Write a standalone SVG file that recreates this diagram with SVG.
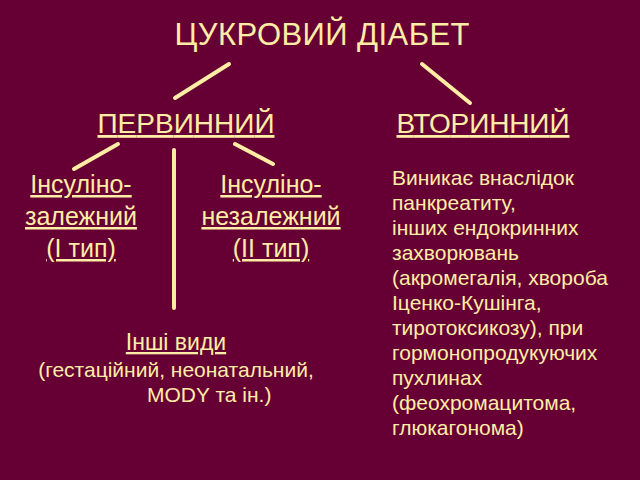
<svg xmlns="http://www.w3.org/2000/svg" width="640" height="480" viewBox="0 0 640 480">
<style>
text{font-family:"Liberation Sans",Arial,sans-serif;fill:#FFEDA6}
.t{font-size:31px}
.h{font-size:28px;text-decoration:underline}
.s{font-size:25px;text-decoration:underline}
.o{font-size:21px}
.r{font-size:21px}
.c{stroke:#FFEDA6;stroke-width:4;stroke-linecap:round;fill:none}
</style>
<rect width="640" height="480" fill="#660034"/>
<g id="connectors" class="c">
<line x1="229" y1="64" x2="175" y2="98"/>
<line x1="422" y1="64" x2="470" y2="103"/>
<line x1="118" y1="144" x2="74" y2="169"/>
<line x1="174" y1="150" x2="174" y2="308"/>
<line x1="235" y1="144" x2="273" y2="164"/>
</g>
<g id="root"><text class="t" x="322" y="45" text-anchor="middle" textLength="295">ЦУКРОВИЙ ДІАБЕТ</text></g>
<g id="primary"><text class="h" x="186" y="133" text-anchor="middle" textLength="177">ПЕРВИННИЙ</text></g>
<g id="secondary"><text class="h" x="483" y="133" text-anchor="middle" textLength="173">ВТОРИННИЙ</text></g>
<g id="type1">
<text class="s" x="81" y="193" text-anchor="middle">Інсуліно-</text>
<text class="s" x="81" y="225" text-anchor="middle">залежний</text>
<text class="s" x="81" y="257" text-anchor="middle">(І тип)</text>
</g>
<g id="type2">
<text class="s" x="271" y="193" text-anchor="middle">Інсуліно-</text>
<text class="s" x="271" y="225" text-anchor="middle">незалежний</text>
<text class="s" x="271" y="257" text-anchor="middle">(ІІ тип)</text>
</g>
<g id="other">
<text class="s" x="176" y="350" text-anchor="middle" style="font-size:23px">Інші види</text>
<text class="o" x="176" y="377" text-anchor="middle">(гестаційний, неонатальний,</text>
<text class="o" x="147" y="402">MODY та ін.)</text>
</g>
<g id="secondary-desc">
<text class="r" x="392" y="185">Виникає внаслідок</text>
<text class="r" x="392" y="210">панкреатиту,</text>
<text class="r" x="392" y="235">інших ендокринних</text>
<text class="r" x="392" y="260">захворювань</text>
<text class="r" x="392" y="285">(акромегалія, хвороба</text>
<text class="r" x="392" y="310">Іценко-Кушінга,</text>
<text class="r" x="392" y="335">тиротоксикозу), при</text>
<text class="r" x="392" y="360">гормонопродукуючих</text>
<text class="r" x="392" y="385">пухлинах</text>
<text class="r" x="392" y="410">(феохромацитома,</text>
<text class="r" x="392" y="435">глюкагонома)</text>
</g>
</svg>
